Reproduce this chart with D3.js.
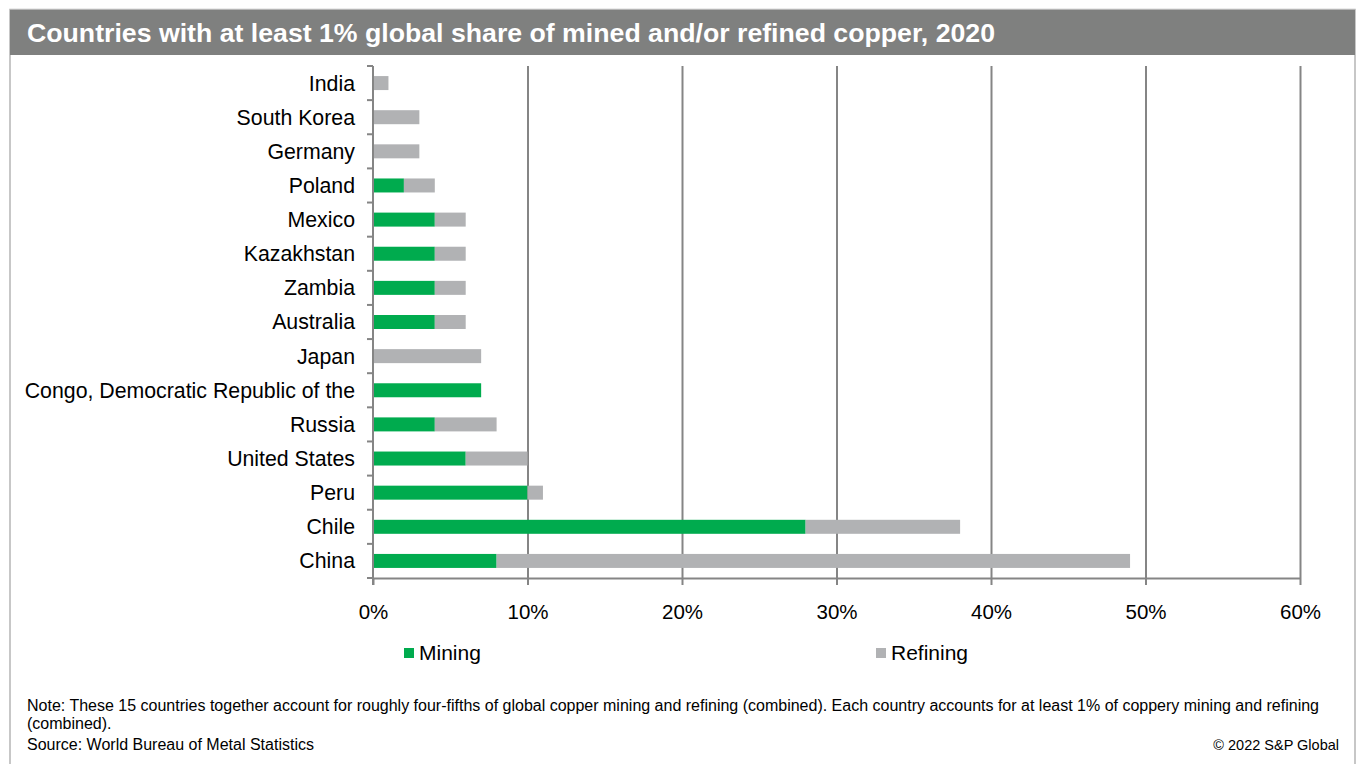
<!DOCTYPE html>
<html><head><meta charset="utf-8">
<script src="https://cdn.jsdelivr.net/npm/d3@7"></script>
<style>body{margin:0;background:#fff;} svg{display:block;font-family:"Liberation Sans",Arial,sans-serif;}</style>
</head><body>
<svg id="chart" width="1357" height="764"></svg>
<script>
const categories = ["India","South Korea","Germany","Poland","Mexico","Kazakhstan","Zambia","Australia","Japan","Congo, Democratic Republic of the","Russia","United States","Peru","Chile","China"];
const mining   = [0, 0, 0, 2, 4, 4, 4, 4, 0, 7, 4, 6, 10, 28, 8];
const refining = [1, 3, 3, 2, 2, 2, 2, 2, 7, 0, 4, 4, 1, 10, 41];
const xTicks = [0, 10, 20, 30, 40, 50, 60];
const seriesNames = ["Mining", "Refining"];
const colors = {Mining: "#00AB4E", Refining: "#B1B2B4"};
const title = "Countries with at least 1% global share of mined and/or refined copper, 2020";
const noteLines = ["Note: These 15 countries together account for roughly four-fifths of global copper mining and refining (combined). Each country accounts for at least 1% of coppery mining and refining", "(combined)."];
const source = "Source: World Bureau of Metal Statistics";
const copyright = "\u00A9 2022 S&P Global";

const svg = d3.select("#chart");
// frame
svg.append("rect").attr("x",10).attr("y",9.5).attr("width",1345).attr("height",800)
  .attr("fill","none").attr("stroke","#b5b5b5").attr("stroke-width",1.5);
// header
svg.append("rect").attr("x",10).attr("y",10).attr("width",1345).attr("height",45).attr("fill","#7f807f");
svg.append("text").attr("x",27).attr("y",42).attr("fill","#fff").attr("font-weight","bold")
  .attr("font-size",25).attr("textLength",968).attr("lengthAdjust","spacingAndGlyphs").text(title);

const x = d3.scaleLinear().domain([0,60]).range([373,1300]);
const y = d3.scaleBand().domain(categories).range([66,578]).paddingInner(0.59).paddingOuter(0.295);

// gridlines + x axis
const xAxis = d3.axisBottom(x).tickValues(xTicks).tickFormat(d => d + "%").tickSize(7).tickSizeOuter(0);
const gx = svg.append("g").attr("transform","translate(0,578)").call(xAxis);
gx.select(".domain").attr("stroke","#858585").attr("stroke-width",2);
gx.selectAll(".tick line").attr("stroke","#858585").attr("stroke-width",2);
gx.selectAll(".tick text").attr("font-size",20.5).attr("fill","#000").attr("dy","1.5em");
gx.selectAll(".tick").filter(d => d > 0).append("line")
  .attr("y1",0).attr("y2",66-578).attr("stroke","#858585").attr("stroke-width",2);

// bars
const stacked = categories.map((c,i) => ({c, m: mining[i], r: refining[i]}));
const g = svg.append("g");
g.selectAll(".m").data(stacked).join("rect").attr("class","m")
  .attr("x", x(0)).attr("y", d => y(d.c)).attr("height", y.bandwidth())
  .attr("width", d => x(d.m) - x(0)).attr("fill", colors.Mining);
g.selectAll(".r").data(stacked).join("rect").attr("class","r")
  .attr("x", d => x(d.m)).attr("y", d => y(d.c)).attr("height", y.bandwidth())
  .attr("width", d => x(d.m + d.r) - x(d.m)).attr("fill", colors.Refining);

// y axis
const gy = svg.append("g");
gy.append("line").attr("x1",x(0)).attr("x2",x(0)).attr("y1",66).attr("y2",585)
  .attr("stroke","#858585").attr("stroke-width",2);
const bounds = categories.map(c => y(c) - y.step()*y.paddingInner()/2).concat([578]);
gy.selectAll(".yt").data(bounds).join("line").attr("class","yt")
  .attr("x1",x(0)-6).attr("x2",x(0)).attr("y1",d=>d).attr("y2",d=>d)
  .attr("stroke","#858585").attr("stroke-width",2);
gy.selectAll(".yl").data(categories).join("text").attr("class","yl")
  .attr("x",355).attr("y", d => y(d) + y.bandwidth()/2).attr("dy","0.35em")
  .attr("text-anchor","end").attr("font-size",21.3).attr("fill","#000").text(d=>d);

// legend
const legX = {Mining: 404, Refining: 876};
seriesNames.forEach(s => {
  svg.append("rect").attr("x",legX[s]).attr("y",648).attr("width",10).attr("height",10).attr("fill",colors[s]);
  svg.append("text").attr("x",legX[s]+15).attr("y",660).attr("font-size",21).attr("fill","#000").text(s);
});

// notes
noteLines.forEach((t,i) => {
  svg.append("text").attr("x",27).attr("y",711 + i*18).attr("font-size",16).attr("fill","#000").text(t);
});
svg.append("text").attr("x",27).attr("y",750).attr("font-size",16).attr("fill","#000").text(source);
svg.append("text").attr("x",1339).attr("y",750).attr("font-size",14.5).attr("text-anchor","end").attr("fill","#000").text(copyright);
</script>
</body></html>
